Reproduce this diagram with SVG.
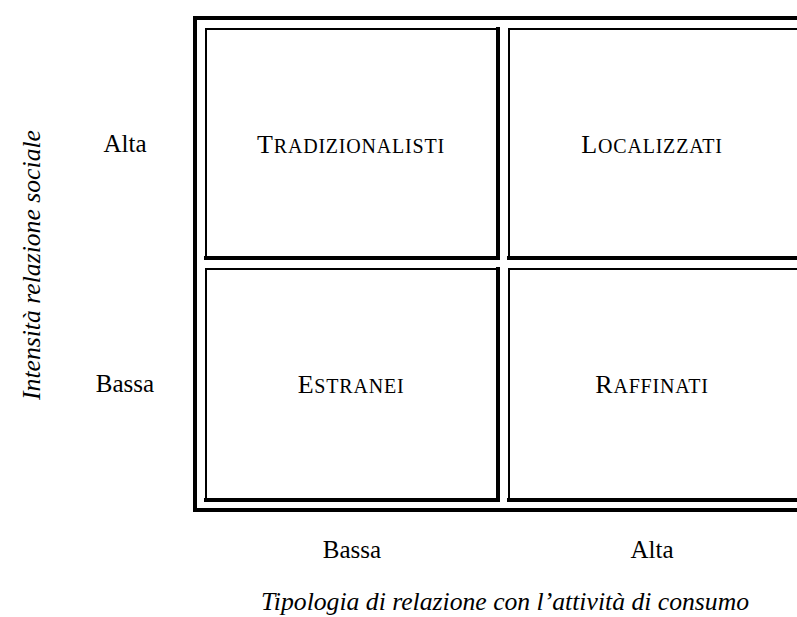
<svg xmlns="http://www.w3.org/2000/svg" width="797" height="617" viewBox="0 0 797 617" font-family="'Liberation Serif', 'Times New Roman', serif">
<style>
.bg{fill:#fff}
.frame{fill:none;stroke:#000;stroke-width:4;stroke-linejoin:miter}
.thin{fill:none;stroke:#000;stroke-width:2;stroke-linecap:square}
.thick{fill:none;stroke:#000;stroke-width:4;stroke-linecap:square}
text{font-family:'Liberation Serif','Times New Roman',serif;fill:#000}
.lbl{font-size:25px;text-anchor:middle}
.cap{font-size:26px;text-anchor:middle;letter-spacing:0.8px}
.sc{font-size:20px}
.ax{font-size:26px;font-style:italic;text-anchor:middle}
</style>
<rect class="bg" x="0" y="0" width="797" height="617"/>
<g id="frame"><rect class="frame" x="195" y="18" width="700" height="492"/></g>
<g id="cell-tradizionalisti">
<path class="thin" d="M206,257 V29 H497"/>
<path class="thick" d="M498,29 V258 H206"/>
<text class="cap" x="351" y="153">T<tspan class="sc">RADIZIONALISTI</tspan></text>
</g>
<g id="cell-localizzati">
<path class="thin" d="M509,257 V29 H800"/>
<path class="thick" d="M509,258 H800"/>
<text class="cap" x="652" y="153">L<tspan class="sc">OCALIZZATI</tspan></text>
</g>
<g id="cell-estranei">
<path class="thin" d="M206,499 V269 H497"/>
<path class="thick" d="M498,269 V500 H206"/>
<text class="cap" x="351" y="393">E<tspan class="sc">STRANEI</tspan></text>
</g>
<g id="cell-raffinati">
<path class="thin" d="M509,499 V269 H800"/>
<path class="thick" d="M509,500 H800"/>
<text class="cap" x="652" y="393">R<tspan class="sc">AFFINATI</tspan></text>
</g>
<g id="labels">
<text class="lbl" x="125" y="152">Alta</text>
<text class="lbl" x="125" y="392">Bassa</text>
<text class="lbl" x="352" y="558">Bassa</text>
<text class="lbl" x="652" y="558">Alta</text>
<text class="ax" x="505" y="610" textLength="488" lengthAdjust="spacingAndGlyphs">Tipologia di relazione con l’attività di consumo</text>
<text class="ax" transform="translate(40,265) rotate(-90)" textLength="270" lengthAdjust="spacingAndGlyphs">Intensità relazione sociale</text>
</g>
</svg>
